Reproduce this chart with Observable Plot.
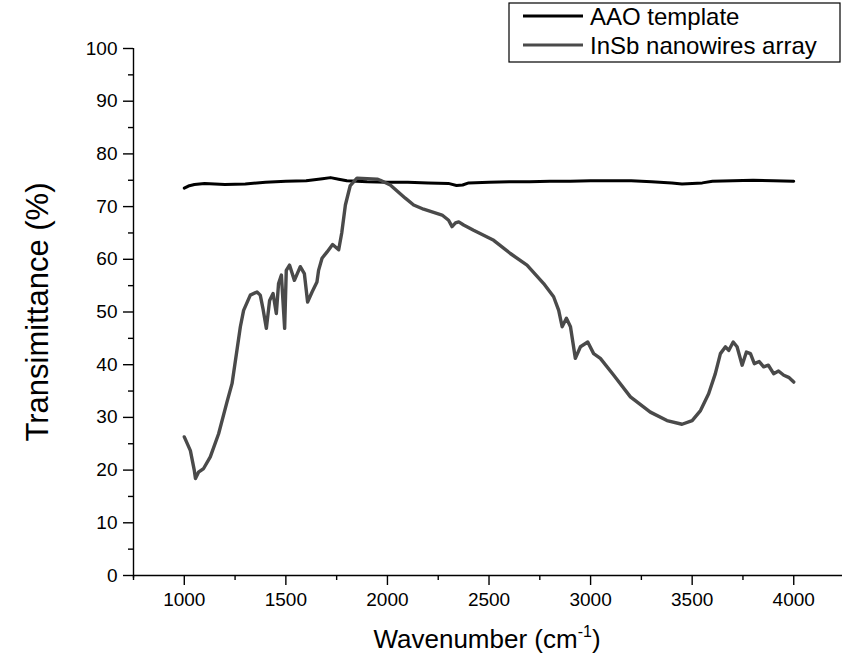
<!DOCTYPE html>
<html>
<head>
<meta charset="utf-8">
<script src="https://cdn.jsdelivr.net/npm/d3@7"></script>
<script src="https://cdn.jsdelivr.net/npm/@observablehq/plot@0.6"></script>
<style>
  html, body { margin: 0; padding: 0; background: #fff; }
  #chart { width: 842px; height: 665px; }
</style>
</head>
<body>
<div id="chart"></div>
<script>
// ---- data ----
const seriesNames = ["AAO template", "InSb nanowires array"];

const aaoX = [1000, 1020, 1050, 1100, 1150, 1200, 1300, 1400, 1500, 1600, 1680, 1720, 1760, 1800, 1900, 2000, 2100, 2200, 2300, 2340, 2370, 2400, 2500, 2600, 2700, 2800, 2900, 3000, 3100, 3200, 3300, 3400, 3450, 3500, 3550, 3600, 3700, 3800, 3900, 4000];
const aaoY = [73.5, 73.9, 74.2, 74.4, 74.3, 74.2, 74.3, 74.6, 74.8, 74.9, 75.3, 75.5, 75.2, 74.9, 74.7, 74.6, 74.6, 74.5, 74.4, 74.0, 74.1, 74.5, 74.6, 74.7, 74.7, 74.8, 74.8, 74.9, 74.9, 74.9, 74.7, 74.5, 74.3, 74.4, 74.5, 74.8, 74.9, 75.0, 74.9, 74.8];

const insbX = [1000, 1030, 1049, 1055, 1070, 1095, 1128, 1169, 1210, 1235, 1259, 1276, 1292, 1325, 1358, 1374, 1387, 1404, 1420, 1437, 1453, 1464, 1478, 1494, 1502, 1518, 1542, 1571, 1591, 1607, 1629, 1653, 1661, 1678, 1703, 1730, 1760, 1775, 1793, 1817, 1850, 1900, 1950, 1965, 2014, 2088, 2129, 2178, 2269, 2301, 2318, 2335, 2351, 2375, 2424, 2523, 2605, 2687, 2769, 2818, 2843, 2860, 2881, 2901, 2925, 2950, 2986, 3015, 3048, 3114, 3196, 3294, 3376, 3450, 3500, 3541, 3581, 3614, 3639, 3664, 3680, 3702, 3721, 3746, 3767, 3787, 3806, 3830, 3852, 3875, 3901, 3925, 3951, 3975, 4000];
const insbY = [26.3, 23.7, 20.0, 18.4, 19.6, 20.3, 22.5, 26.9, 32.9, 36.4, 42.7, 47.2, 50.3, 53.2, 53.8, 53.2, 50.7, 46.9, 52.2, 53.5, 49.7, 55.4, 57.0, 46.9, 57.9, 58.9, 56.0, 58.6, 57.3, 51.9, 53.8, 55.7, 57.9, 60.2, 61.4, 62.8, 61.8, 65.0, 70.3, 74.0, 75.4, 75.3, 75.2, 75.0, 74.1, 71.6, 70.3, 69.5, 68.4, 67.4, 66.2, 66.9, 67.1, 66.5, 65.5, 63.6, 61.1, 58.9, 55.4, 52.9, 50.3, 47.2, 48.8, 47.2, 41.2, 43.4, 44.3, 42.1, 41.2, 38.0, 33.9, 31.0, 29.4, 28.7, 29.4, 31.3, 34.5, 38.3, 42.1, 43.4, 42.7, 44.3, 43.4, 39.9, 42.4, 42.1, 40.2, 40.6, 39.6, 39.9, 38.3, 38.8, 38.0, 37.6, 36.7];

const xMajor = [1000, 1500, 2000, 2500, 3000, 3500, 4000];
const xMinor = [750, 1250, 1750, 2250, 2750, 3250, 3750, 4250];
const yMajor = [0, 10, 20, 30, 40, 50, 60, 70, 80, 90, 100];
const yMinor = [5, 15, 25, 35, 45, 55, 65, 75, 85, 95];

const xTitle = "Wavenumber (cm";
const xTitleSup = "-1";
const yTitle = "Transimittance (%)";

// ---- tables ----
const aao = aaoX.map((x, i) => ({x, y: aaoY[i]}));
const insb = insbX.map((x, i) => ({x, y: insbY[i]}));

const font = "'Liberation Sans', Arial, sans-serif";

const chart = Plot.plot({
  width: 842,
  height: 665,
  marginLeft: 133,
  marginRight: 0,
  marginTop: 48,
  marginBottom: 90,
  style: {fontFamily: font, fontSize: "19px", color: "#000", background: "#fff"},
  x: {domain: [750, 4240]},
  y: {domain: [0, 100]},
  marks: [
    Plot.axisX({ticks: xMajor, tickSize: 10, tickPadding: 7, strokeWidth: 1.4, label: null, fontSize: 19, tickFormat: d => String(d)}),
    Plot.axisX({ticks: xMinor, tickSize: 5, strokeWidth: 1.4, tickFormat: () => "", label: null}),
    Plot.axisY({ticks: yMajor, tickSize: 10, tickPadding: 6, strokeWidth: 1.4, label: null, fontSize: 19, tickFormat: d => String(d)}),
    Plot.axisY({ticks: yMinor, tickSize: 5, strokeWidth: 1.4, tickFormat: () => "", label: null}),
    Plot.ruleY([0], {stroke: "#000", strokeWidth: 1.4}),
    Plot.ruleX([750], {y1: -0.5, y2: 100, stroke: "#000", strokeWidth: 1.4}),
    Plot.line(aao, {x: "x", y: "y", stroke: "#000", strokeWidth: 3, curve: "linear"}),
    Plot.line(insb, {x: "x", y: "y", stroke: "#4a4a4a", strokeWidth: 3.4, curve: "linear"}),
    Plot.text([yTitle], {frameAnchor: "left", dx: -95, rotate: -90, textAnchor: "middle", lineAnchor: "middle", fontSize: 31, fill: "#000"})
  ]
});

document.getElementById("chart").appendChild(chart);

// x axis title with superscript
const svg = d3.select(chart);
const t = svg.append("text")
  .attr("x", 487).attr("y", 648)
  .attr("text-anchor", "middle")
  .attr("font-family", font)
  .attr("font-size", 26)
  .attr("fill", "#000");
t.append("tspan").text(xTitle);
t.append("tspan").attr("font-size", 16).attr("dy", -11).text(xTitleSup);
t.append("tspan").attr("dy", 11).text(")");

// legend
const lg = svg.append("g");
lg.append("rect").attr("x", 509).attr("y", 3).attr("width", 331).attr("height", 59)
  .attr("fill", "#fff").attr("stroke", "#000").attr("stroke-width", 1.2);
const colors = ["#000", "#4a4a4a"];
seriesNames.forEach((name, i) => {
  const cy = 16 + i * 29;
  lg.append("line").attr("x1", 523).attr("x2", 583).attr("y1", cy).attr("y2", cy)
    .attr("stroke", colors[i]).attr("stroke-width", 3.2);
  lg.append("text").attr("x", 590).attr("y", cy).attr("dy", "0.36em")
    .attr("text-anchor", "start")
    .attr("font-family", font).attr("font-size", 24).attr("fill", "#000").text(name);
});
</script>
</body>
</html>
